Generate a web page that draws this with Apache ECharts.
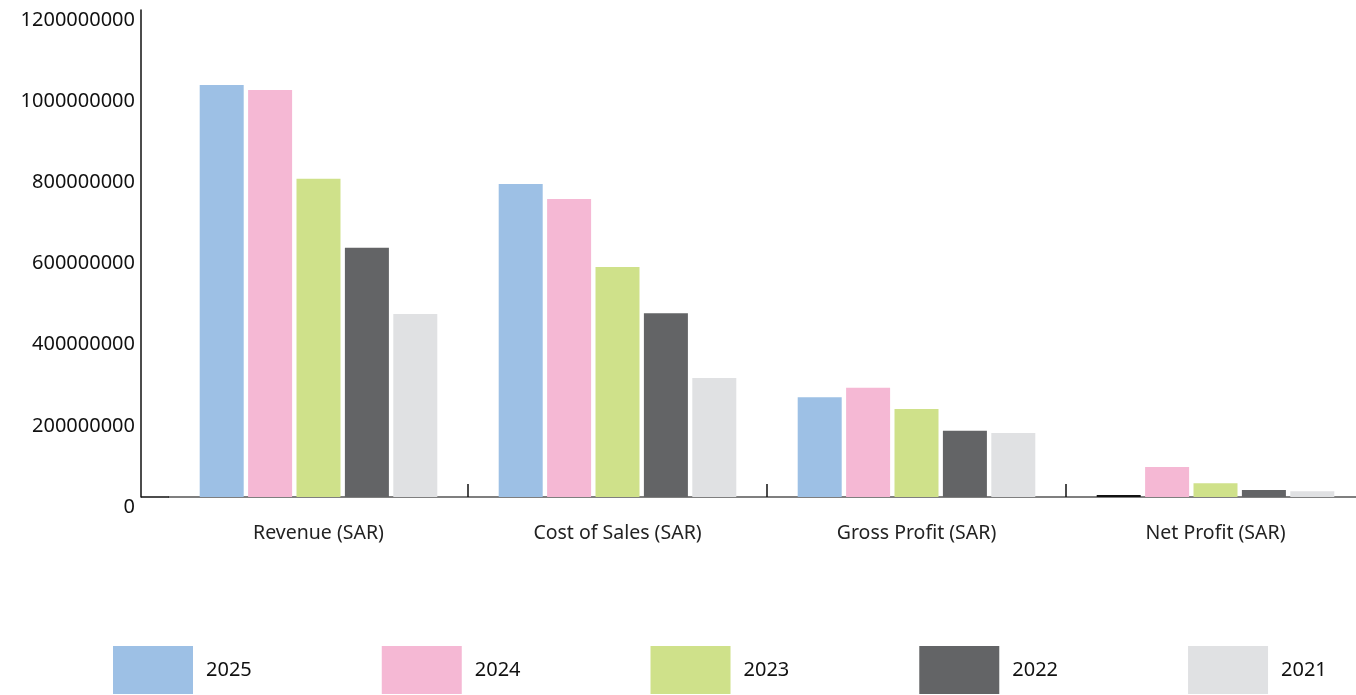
<!DOCTYPE html>
<html>
<head>
<meta charset="utf-8">
<script src="https://cdn.jsdelivr.net/npm/echarts@6/dist/echarts.min.js"></script>
<style>
html,body{margin:0;padding:0;background:#fff;}
#chart{width:1356px;height:695px;}
</style>
</head>
<body>
<div id="chart"></div>
<script>
const categories = ['Revenue (SAR)', 'Cost of Sales (SAR)', 'Gross Profit (SAR)', 'Net Profit (SAR)'];
const years = ['2025', '2024', '2023', '2022', '2021'];
const v2025 = [1015000000, 771000000, 246000000, 5000000];
const v2024 = [1003000000, 734000000, 269000000, 74000000];
const v2023 = [784000000, 567000000, 217000000, 34000000];
const v2022 = [614000000, 453000000, 163000000, 17000000];
const v2021 = [451000000, 293000000, 158000000, 14000000];
const colors = ['#9DC0E5', '#F5B8D4', '#CFE18A', '#636466', '#E0E1E3'];
const yTicks = { min: 0, max: 1200000000, interval: 200000000 };

const FONT = 'Noto Sans';
const seriesValues = [v2025, v2024, v2023, v2022, v2021];

const chart = echarts.init(document.getElementById('chart'), null, { renderer: 'canvas' });

const series = years.map((y, i) => ({
  name: y,
  type: 'bar',
  barWidth: 44,
  barGap: '10%',
  itemStyle: { color: colors[i] },
  data: seriesValues[i].map((v, j) => (i === 0 && j === 3) ? { value: v, itemStyle: { color: '#111111' } } : v),
  animation: false
}));

chart.setOption({
  animation: false,
  textStyle: { fontFamily: FONT },
  grid: { left: 169, width: 1196, top: 10, bottom: 198, containLabel: false, outerBoundsMode: 'none' },
  legend: {
    data: years,
    left: 113,
    top: 646,
    padding: 0,
    itemWidth: 80,
    itemHeight: 48,
    itemGap: 130,
    icon: 'rect',
    textStyle: { fontSize: 20, color: '#111', fontFamily: FONT, padding: [0, 0, 0, 8] }
  },
  xAxis: {
    type: 'category',
    data: categories,
    axisLine: { show: true, lineStyle: { color: '#555', width: 1.5 } },
    axisTick: { show: true, inside: true, length: 13, interval: function (idx) { return idx !== 0; }, lineStyle: { color: '#111', width: 1.5 } },
    axisLabel: { fontSize: 19.5, color: '#222', margin: 26, fontFamily: FONT }
  },
  yAxis: {
    type: 'value',
    min: yTicks.min,
    max: yTicks.max,
    interval: yTicks.interval,
    offset: 28,
    axisLine: { show: true, lineStyle: { color: '#111', width: 1.5 } },
    axisTick: { show: false },
    splitLine: { show: false },
    axisLabel: { fontSize: 20, color: '#111', margin: 6, verticalAlign: 'top', fontFamily: FONT,
      formatter: function (v) { return String(v); } }
  },
  series: series
});

const p0 = chart.convertToPixel({ gridIndex: 0 }, [0, 0]);
const gridRect = chart.getModel().getComponent('grid', 0).coordinateSystem.getRect();
chart.setOption({
  graphic: [{
    type: 'line',
    shape: { x1: gridRect.x - 28, y1: p0[1], x2: gridRect.x, y2: p0[1] },
    style: { stroke: '#111', lineWidth: 1.5 },
    z: 10
  }]
});
</script>
</body>
</html>
